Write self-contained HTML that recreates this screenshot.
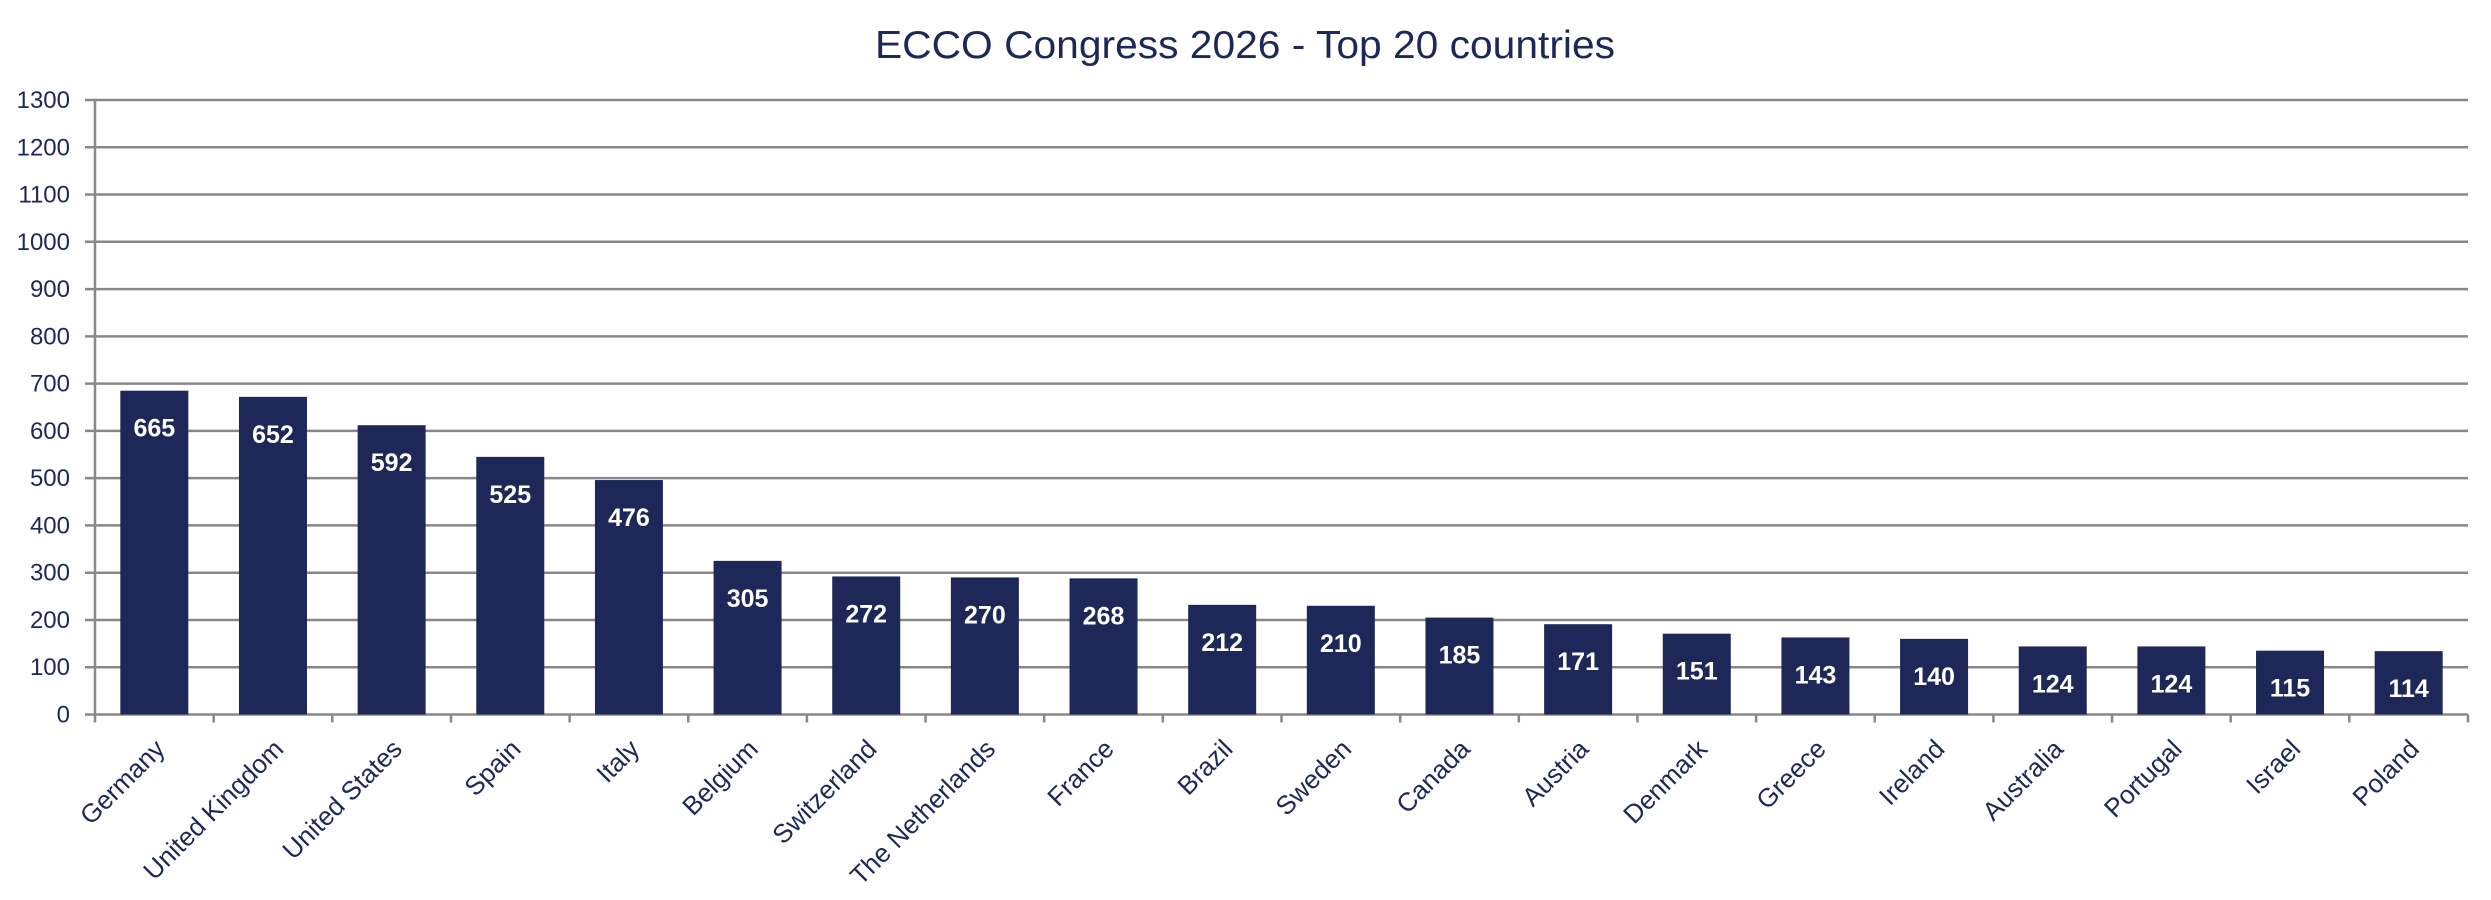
<!DOCTYPE html>
<html><head><meta charset="utf-8"><style>html,body{margin:0;padding:0;background:#fff}svg{display:block}</style></head>
<body>
<svg width="2491" height="900" viewBox="0 0 2491 900" xmlns="http://www.w3.org/2000/svg" font-family="'Liberation Sans', sans-serif">
<text x="1245" y="58" text-anchor="middle" font-size="39" fill="#1e2858" textLength="740" lengthAdjust="spacingAndGlyphs">ECCO Congress 2026 - Top 20 countries</text>
</svg>
<script>
const ns="http://www.w3.org/2000/svg";
const svg=document.querySelector('svg');
const z=714.5,u=0.4727,x0=95,x1=2468,cw=(x1-x0)/20;
function el(t,a,txt){const e=document.createElementNS(ns,t);for(const k in a)e.setAttribute(k,a[k]);if(txt!=null)e.textContent=txt;svg.appendChild(e);return e;}
for(let v=0;v<=1300;v+=100){const y=z-v*u;
 el('line',{x1:x0-10,x2:x1,y1:y,y2:y,stroke:'#888','stroke-width':2.5});
 el('text',{x:70,y:y+8,'text-anchor':'end','font-size':24,fill:'#1e2858'},v);}
el('line',{x1:x0,x2:x0,y1:99,y2:z+8,stroke:'#888','stroke-width':2.5});
const d=[["Germany",665],["United Kingdom",652],["United States",592],["Spain",525],["Italy",476],["Belgium",305],["Switzerland",272],["The Netherlands",270],["France",268],["Brazil",212],["Sweden",210],["Canada",185],["Austria",171],["Denmark",151],["Greece",143],["Ireland",140],["Australia",124],["Portugal",124],["Israel",115],["Poland",114]];
d.forEach((r,i)=>{const c=x0+cw*(i+0.5);const h=(r[1]+20)*u;
 el('line',{x1:x0+cw*(i+1),x2:x0+cw*(i+1),y1:z,y2:z+8,stroke:'#888','stroke-width':2.5});
 el('rect',{x:c-34,y:z-h,width:68,height:h,fill:'#1e2858'});
 el('text',{x:c,y:z-h+46,'text-anchor':'middle','font-size':25,'font-weight':'bold',fill:'#fff'},r[1]);
 el('text',{x:c+12,y:z+36,'text-anchor':'end','font-size':26,fill:'#1e2858',transform:`rotate(-45 ${c+12} ${z+36})`},r[0]);
});
</script>
</body></html>
